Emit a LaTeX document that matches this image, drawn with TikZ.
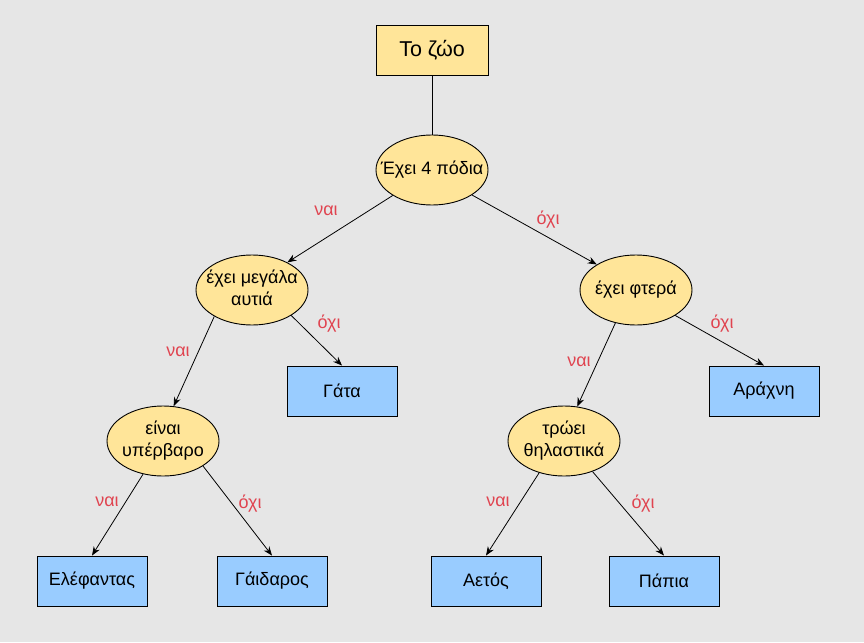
\documentclass[tikz,border=0pt]{standalone}
\usepackage{fontspec}
\setmainfont{Liberation Sans}
\usetikzlibrary{shapes.geometric,arrows.meta}
\definecolor{bgc}{HTML}{E6E6E6}
\definecolor{yel}{HTML}{FFE599}
\definecolor{blu}{HTML}{99CCFF}
\definecolor{lbl}{HTML}{E04450}
\newcommand\ztxt[1]{\makebox[0pt]{\begin{tabular}{@{}c@{}}#1\end{tabular}}}
\begin{document}
\begin{tikzpicture}[x=1pt,y=-1pt,
  base/.style={font=\fontsize{18}{22.5}\selectfont},
  qnode/.style={base,ellipse,draw=black,line width=0.9pt,fill=yel,minimum width=112pt,minimum height=70pt,inner sep=0pt},
  leaf/.style={base,rectangle,draw=black,line width=0.9pt,fill=blu,minimum width=110pt,minimum height=50pt,inner sep=0pt},
  rootbox/.style={rectangle,draw=black,line width=0.9pt,fill=yel,minimum width=112pt,minimum height=50pt,inner sep=0pt,font=\fontsize{21.5}{25}\selectfont},
  lab/.style={base,text=lbl,inner sep=0pt},
  arr/.style={draw=black,line width=0.8pt,-{Stealth[length=9pt,width=7pt,inset=3pt]}}]
\fill[bgc] (0,0) rectangle (864,642);
\useasboundingbox (0,0) rectangle (864,642);

\node[rootbox] (root) at (432,50) {Το ζώο};
\node[qnode] (e1) at (432,170) {\ztxt{Έχει 4 πόδια}};
\node[qnode] (e2) at (252,290) {\ztxt{έχει μεγάλα\\αυτιά}};
\node[qnode] (e3) at (636,290) {\ztxt{έχει φτερά}};
\node[qnode] (e4) at (163,441) {\ztxt{είναι\\υπέρβαρο}};
\node[qnode] (e5) at (564,441) {\ztxt{τρώει\\θηλαστικά}};

\node[leaf] (gata) at (342,391) {Γάτα};
\node[leaf] (arachni) at (764,391) {Αράχνη};
\node[leaf] (elef) at (92,581) {Ελέφαντας};
\node[leaf] (gaid) at (272,581) {Γάιδαρος};
\node[leaf] (aetos) at (486,581) {Αετός};
\node[leaf] (papia) at (664,581) {Πάπια};

\draw[line width=0.8pt] (root.south) -- (e1.north);
\draw[arr] (e1.213) -- (e2.38);
\draw[arr] (e1.-32) -- (e3.147);
\draw[arr] (e2.215) -- (e4.73);
\draw[arr] (e2.-33) -- (gata.north);
\draw[arr] (e4.239) -- (elef.north);
\draw[arr] (e4.-32) -- (gaid.north);
\draw[arr] (e3.238) -- (e5.69);
\draw[arr] (e3.-33) -- (arachni.north);
\draw[arr] (e5.232) -- (aetos.north);
\draw[arr] (e5.-47) -- (papia.north);

\node[lab] (l1) at (326,211) {ναι};
\node[lab] (l2) at (548,220) {όχι};
\node[lab] (l3) at (178,352) {ναι};
\node[lab] (l4) at (329,324) {όχι};
\node[lab] (l5) at (107,502) {ναι};
\node[lab] (l6) at (250,504) {όχι};
\node[lab] (l7) at (579,362) {ναι};
\node[lab] (l8) at (722,324) {όχι};
\node[lab] (l9) at (498,502) {ναι};
\node[lab] (l10) at (643,504) {όχι};
\end{tikzpicture}
\end{document}
